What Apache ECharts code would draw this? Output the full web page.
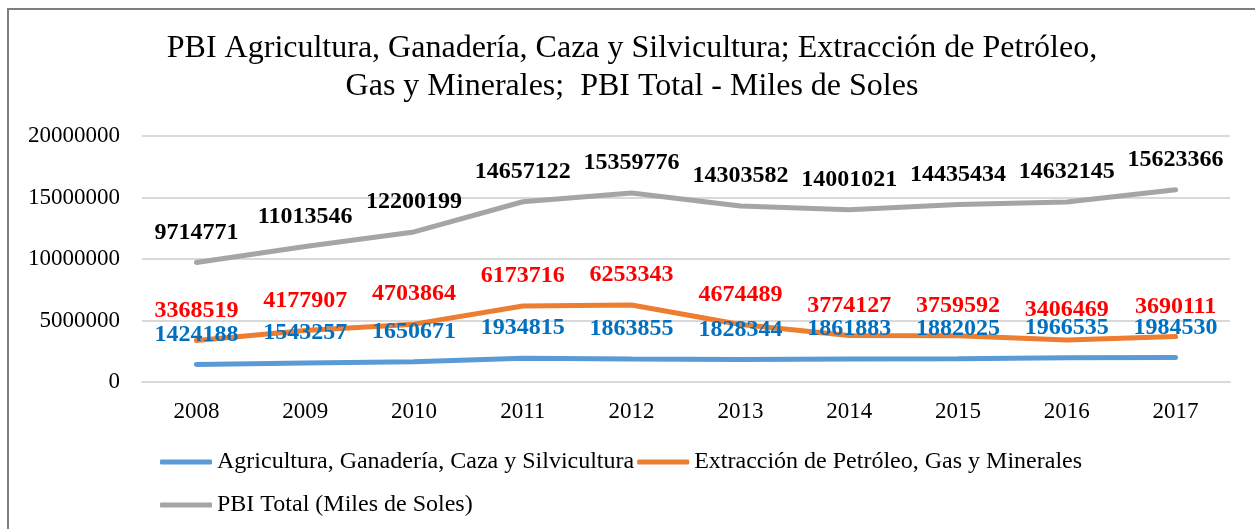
<!DOCTYPE html>
<html>
<head>
<meta charset="utf-8">
<script src="https://cdn.jsdelivr.net/npm/echarts@6/dist/echarts.min.js"></script>
<style>
  html, body { margin: 0; padding: 0; background: #fff; }
  #main { width: 1255px; height: 529px; }
  #frame { position: absolute; left: 7px; top: 8px; width: 1248px; height: 521px;
           border-left: 2px solid #7f7f7f; border-top: 2px solid #7f7f7f; pointer-events: none; }
</style>
</head>
<body>
<div id="main"></div>
<div id="frame"></div>
<script>
var years = ['2008', '2009', '2010', '2011', '2012', '2013', '2014', '2015', '2016', '2017'];
var agricultura = [1424188, 1543257, 1650671, 1934815, 1863855, 1828344, 1861883, 1882025, 1966535, 1984530];
var extraccion = [3368519, 4177907, 4703864, 6173716, 6253343, 4674489, 3774127, 3759592, 3406469, 3690111];
var pbiTotal = [9714771, 11013546, 12200199, 14657122, 15359776, 14303582, 14001021, 14435434, 14632145, 15623366];

var fuente = '"Liberation Serif", "Times New Roman", serif';

function serie(name, data, color, labelColor) {
    return {
        name: name,
        type: 'line',
        data: data,
        symbol: 'circle',
        symbolSize: 2,
        showSymbol: true,
        lineStyle: { color: color, width: 5, cap: 'round' },
        itemStyle: { color: color },
        label: {
            show: true,
            position: 'top',
            distance: 17,
            color: labelColor,
            fontFamily: fuente,
            fontSize: 24,
            fontWeight: 'bold'
        }
    };
}

var legendText = { fontFamily: fuente, fontSize: 24, color: '#000' };

var myChart = echarts.init(document.getElementById('main'));
var option = {
    backgroundColor: '#fff',
    title: {
        text: 'PBI Agricultura, Ganadería, Caza y Silvicultura; Extracción de Petróleo,\nGas y Minerales;  PBI Total - Miles de Soles',
        left: 632,
        top: 30,
        padding: 0,
        textAlign: 'center',
        textStyle: { fontFamily: fuente, fontSize: 32, fontWeight: 'normal', color: '#000', lineHeight: 38 }
    },
    legend: [{
        left: 160,
        top: 450,
        padding: 0,
        itemWidth: 52,
        itemHeight: 5,
        itemGap: 3,
        icon: 'roundRect',
        textStyle: legendText,
        data: ['Agricultura, Ganadería, Caza y Silvicultura', 'Extracción de Petróleo, Gas y Minerales']
    }, {
        left: 160,
        top: 493,
        padding: 0,
        itemWidth: 52,
        itemHeight: 5,
        icon: 'roundRect',
        textStyle: legendText,
        data: ['PBI Total (Miles de Soles)']
    }],
    grid: { left: 142, right: 25, top: 136, height: 246, containLabel: false },
    xAxis: {
        type: 'category',
        data: years,
        boundaryGap: true,
        axisLine: { show: true, lineStyle: { color: '#d9d9d9', width: 2 } },
        axisTick: { show: false },
        axisLabel: { fontFamily: fuente, fontSize: 23, color: '#000', margin: 18 }
    },
    yAxis: {
        type: 'value',
        min: 0,
        max: 20000000,
        interval: 5000000,
        axisLine: { show: false },
        axisTick: { show: false },
        splitLine: { lineStyle: { color: '#d9d9d9', width: 2 } },
        axisLabel: { fontFamily: fuente, fontSize: 23, color: '#000', margin: 22, formatter: function (v) { return String(v); } }
    },
    series: [
        serie('Agricultura, Ganadería, Caza y Silvicultura', agricultura, '#5b9bd5', '#0070c0'),
        serie('Extracción de Petróleo, Gas y Minerales', extraccion, '#ed7d31', '#ff0000'),
        serie('PBI Total (Miles de Soles)', pbiTotal, '#a5a5a5', '#000000')
    ],
    animation: false
};
myChart.setOption(option);
window.onresize = myChart.resize;
</script>
</body>
</html>
